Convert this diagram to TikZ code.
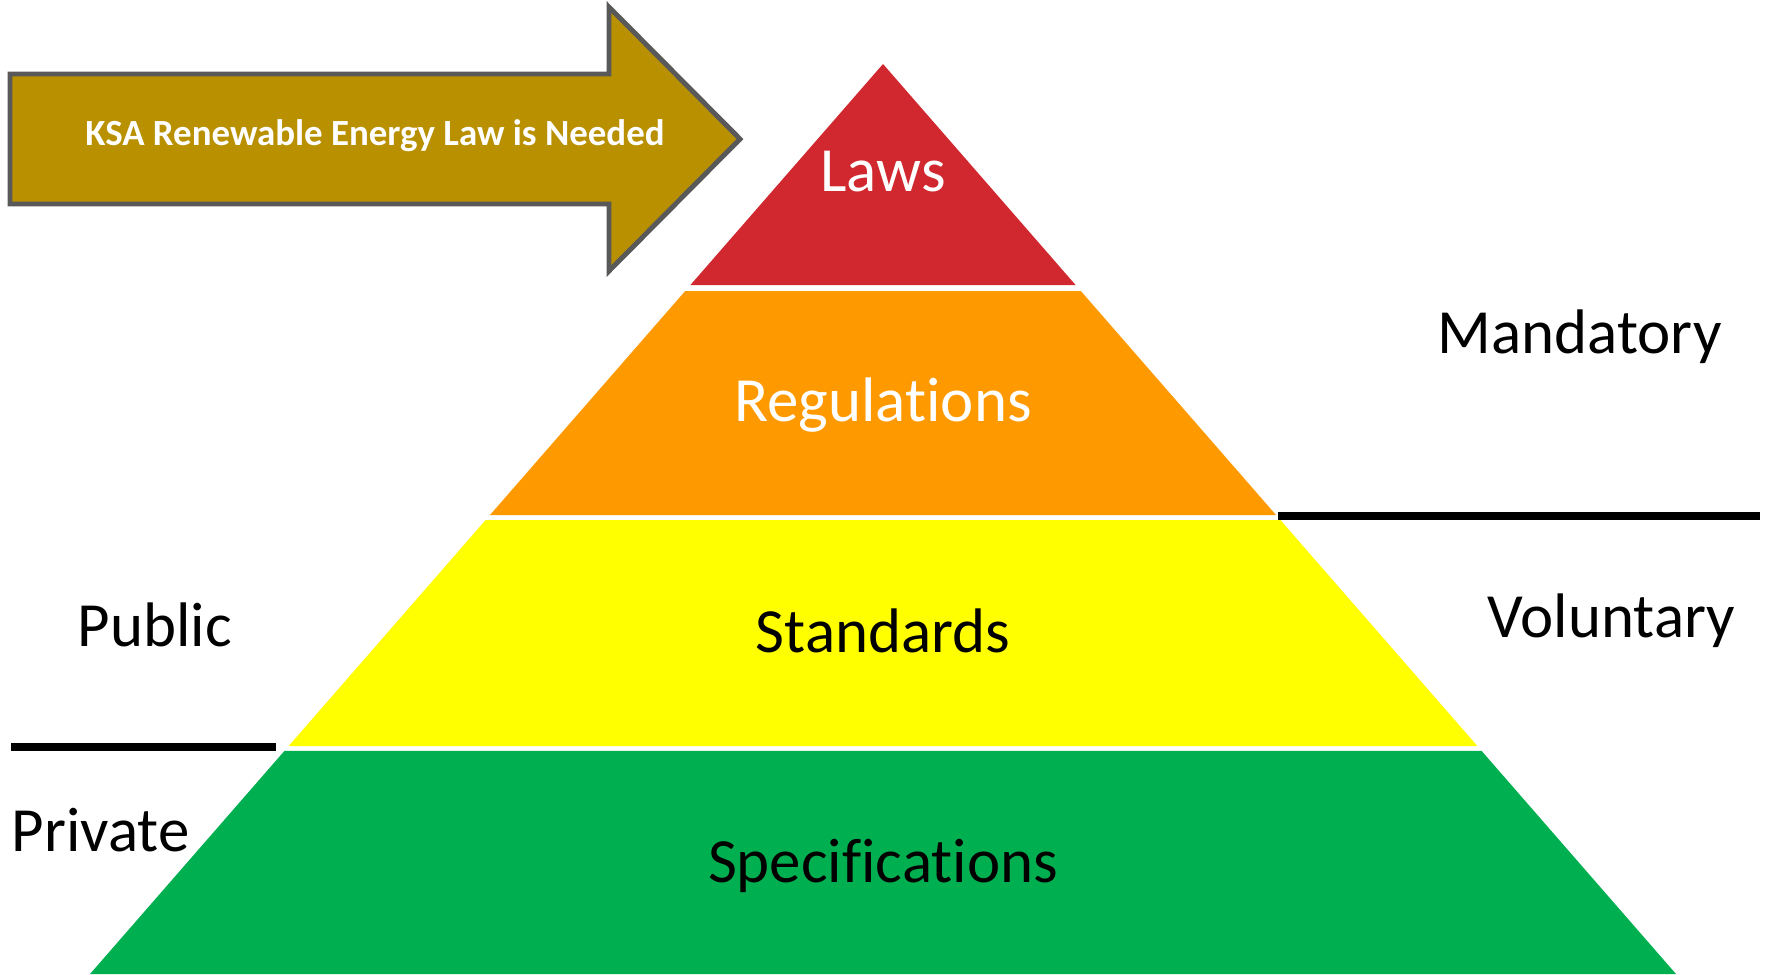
\documentclass[tikz,border=0pt]{standalone}
\usepackage{fontspec}
\setmainfont{Carlito}[Ligatures=NoCommon]
\usepackage{tikz}
\usetikzlibrary{calc}
\definecolor{lawred}{HTML}{D0282E}
\definecolor{regorange}{HTML}{FF9900}
\definecolor{stdyellow}{HTML}{FFFF00}
\definecolor{specgreen}{HTML}{00B050}
\definecolor{needgold}{HTML}{B89000}
\definecolor{needgray}{HTML}{595959}

\begin{document}
\begin{tikzpicture}[
    x = 0.1mm, y = -0.1mm,
    level/.style = {font=\fontsize{17.9}{21}\selectfont, text=#1,
        anchor=base, inner sep=0pt},
    side/.style = {font=\fontsize{17.9}{21}\selectfont,
        anchor=base west, inner sep=0pt},
    rule/.style = {line width=2.2pt}
  ]
  \useasboundingbox (0,0) rectangle (1766,974);

  % arrow
  \draw[needgray, line width=1.4pt, fill=needgold, line join=miter]
    (10,74) -- (609,74) -- (609,7) -- (740,139) -- (609,271)
    -- (609,204) -- (10,204) -- cycle;
  \node[font=\fontsize{10.5}{12}\selectfont\bfseries, text=white,
    anchor=base, inner sep=0pt] (need) at (375,145)
    {KSA Renewable Energy Law is Needed};

  % pyramid
  \coordinate (apex) at (883,64);
  \coordinate (bl) at (90,974);
  \coordinate (br) at (1676,974);
  \foreach \a/\b/\col in {0/0.2429/lawred, 0.2495/0.4956/regorange,
      0.5011/0.7495/stdyellow, 0.7549/1/specgreen}
    \fill[\col] ($(apex)!\a!(bl)$) -- ($(apex)!\b!(bl)$)
      -- ($(apex)!\b!(br)$) -- ($(apex)!\a!(br)$) -- cycle;

  \node[level=white] (laws) at (883,191) {Laws};
  \node[level=white] (regs) at (883,421) {Regulations};
  \node[level=black] (stds) at (883,652) {Standards};
  \node[level=black] (specs) at (883,882) {Specifications};

  % sides
  \draw[rule] (1278,516) -- (1760,516);
  \draw[rule] (11,747) -- (276,747);
  \node[side] (mand) at (1437,353) {Mandatory};
  \node[side] (vol) at (1487,637) {Voluntary};
  \node[side] (pub) at (77,646) {Public};
  \node[side] (priv) at (11,851) {Private};
\end{tikzpicture}
\end{document}
